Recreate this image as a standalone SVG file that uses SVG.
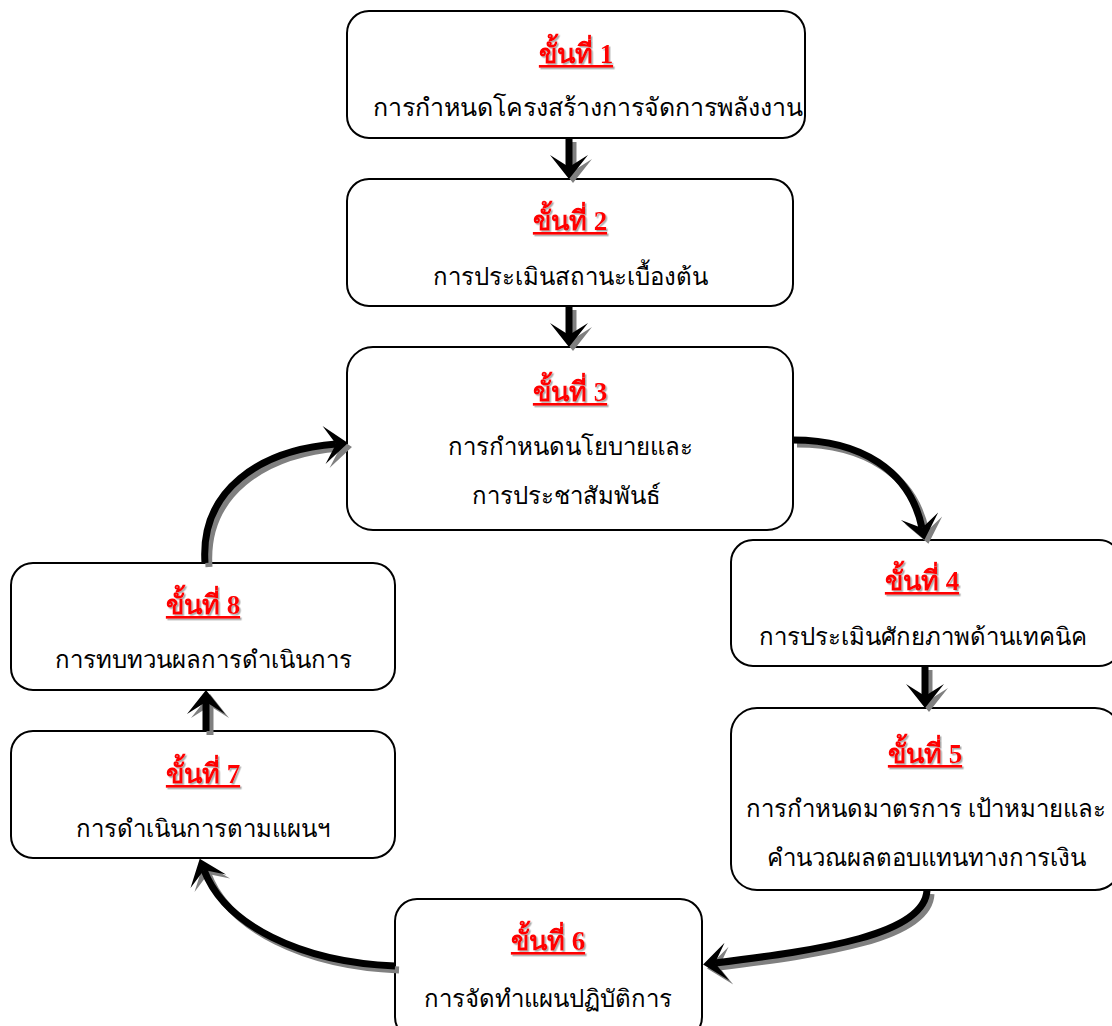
<svg xmlns="http://www.w3.org/2000/svg" width="1112" height="1026" viewBox="0 0 1112 1026">
<defs>
<style>
.box{fill:#fff;stroke:#000;stroke-width:2}
.title{font-family:"Liberation Serif","DejaVu Serif",serif;font-weight:bold;font-size:27px;fill:#ff0000;text-anchor:middle;text-decoration:underline;filter:url(#ts)}
.body{font-family:"Liberation Serif","DejaVu Serif","Noto Sans",serif;font-size:24px;fill:#000;text-anchor:middle}
.ln{fill:none;stroke:#000;stroke-width:7}
.sh{fill:none;stroke:#808080;stroke-width:7}
</style>
<filter id="ts" x="-10%" y="-10%" width="130%" height="140%">
<feDropShadow dx="1.5" dy="1.5" stdDeviation="0.6" flood-color="#888" flood-opacity="0.7"/>
</filter>
<marker id="ah" markerUnits="userSpaceOnUse" markerWidth="60" markerHeight="60" viewBox="-30 -30 60 60" refX="0" refY="0" orient="auto" overflow="visible">
<path d="M12,0 L-12,-19 L0,0 L-12,19 Z" fill="#000"/>
</marker>
<marker id="ahs" markerUnits="userSpaceOnUse" markerWidth="60" markerHeight="60" viewBox="-30 -30 60 60" refX="0" refY="0" orient="auto" overflow="visible">
<path d="M12,0 L-12,-19 L0,0 L-12,19 Z" fill="#808080"/>
</marker>
</defs>
<rect width="1112" height="1026" fill="#fff"/>

<g id="step1">
<rect class="box" x="347" y="11" width="458" height="127" rx="22"/>
<text class="title" x="576" y="63">ขั้นที่ 1</text>
<text class="body" x="588" y="116" style="font-size:25px">การกำหนดโครงสร้างการจัดการพลังงาน</text>
</g>
<g id="step2">
<rect class="box" x="347" y="179" width="446" height="127" rx="22"/>
<text class="title" x="570" y="230">ขั้นที่ 2</text>
<text class="body" x="570" y="285">การประเมินสถานะเบื้องต้น</text>
</g>
<g id="step3">
<rect class="box" x="347" y="347" width="446" height="183" rx="26"/>
<text class="title" x="570" y="401">ขั้นที่ 3</text>
<text class="body" x="570" y="455">การกำหนดนโยบายและ</text>
<text class="body" x="566" y="504">การประชาสัมพันธ์</text>
</g>
<g id="step4">
<rect class="box" x="731" y="540" width="390" height="126" rx="22"/>
<text class="title" x="922" y="590">ขั้นที่ 4</text>
<text class="body" x="923" y="645">การประเมินศักยภาพด้านเทคนิค</text>
</g>
<g id="step5">
<rect class="box" x="731" y="708" width="390" height="182" rx="26"/>
<text class="title" x="925" y="763">ขั้นที่ 5</text>
<text class="body" x="926" y="817">การกำหนดมาตรการ เป้าหมายและ</text>
<text class="body" x="926" y="866">คำนวณผลตอบแทนทางการเงิน</text>
</g>
<g id="step6">
<rect class="box" x="395" y="899" width="307" height="140" rx="22"/>
<text class="title" x="548" y="950">ขั้นที่ 6</text>
<text class="body" x="548" y="1007">การจัดทำแผนปฏิบัติการ</text>
</g>
<g id="step7">
<rect class="box" x="11" y="731" width="384" height="127" rx="22"/>
<text class="title" x="203" y="783">ขั้นที่ 7</text>
<text class="body" x="203" y="837">การดำเนินการตามแผนฯ</text>
</g>
<g id="step8">
<rect class="box" x="11" y="563" width="384" height="127" rx="22"/>
<text class="title" x="203" y="614">ขั้นที่ 8</text>
<text class="body" x="203" y="668">การทบทวนผลการดำเนินการ</text>
</g>

<g id="connectors">
<g transform="translate(4,4)">
<path class="sh" d="M569,138 L569,167" marker-end="url(#ahs)"/>
<path class="sh" d="M569,306 L569,335" marker-end="url(#ahs)"/>
<path class="sh" d="M793,440 C860,440 910,470 922,528" marker-end="url(#ahs)"/>
<path class="sh" d="M925,666 L925,696" marker-end="url(#ahs)"/>
<path class="sh" d="M927,890 C925,935 820,950 715,963" marker-end="url(#ahs)"/>
<path class="sh" d="M395,966 C300,962 225,925 204,870" marker-end="url(#ahs)"/>
<path class="sh" d="M206,731 L206,702" marker-end="url(#ahs)"/>
<path class="sh" d="M205,563 C200,490 260,450 336,444" marker-end="url(#ahs)"/>
</g>
<path class="ln" d="M569,138 L569,167" marker-end="url(#ah)"/>
<path class="ln" d="M569,306 L569,335" marker-end="url(#ah)"/>
<path class="ln" d="M793,440 C860,440 910,470 922,528" marker-end="url(#ah)"/>
<path class="ln" d="M925,666 L925,696" marker-end="url(#ah)"/>
<path class="ln" d="M927,890 C925,935 820,950 715,963" marker-end="url(#ah)"/>
<path class="ln" d="M395,966 C300,962 225,925 204,870" marker-end="url(#ah)"/>
<path class="ln" d="M206,731 L206,702" marker-end="url(#ah)"/>
<path class="ln" d="M205,563 C200,490 260,450 336,444" marker-end="url(#ah)"/>
</g>
</svg>
